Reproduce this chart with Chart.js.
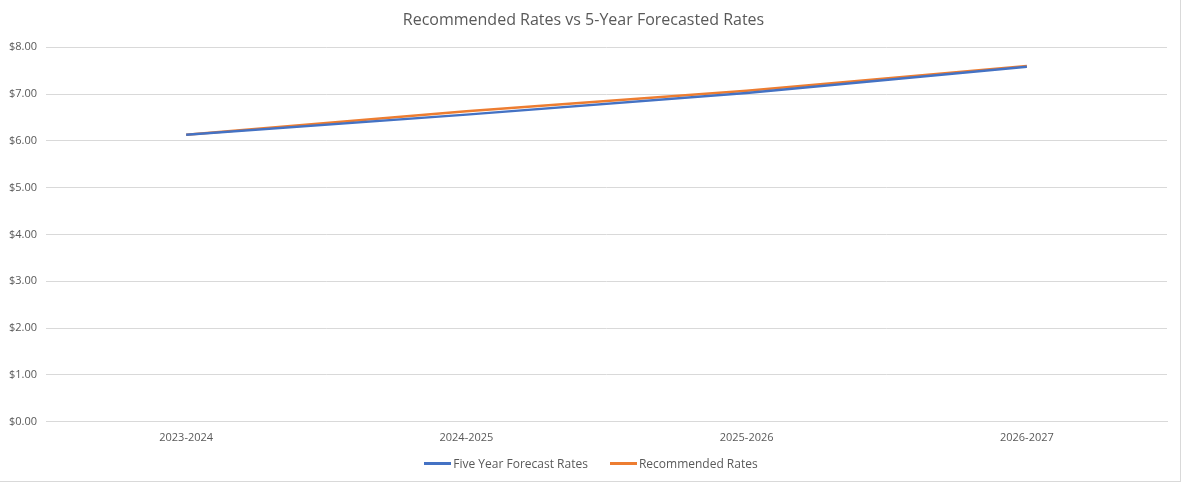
<!DOCTYPE html>
<html>
<head>
<meta charset="utf-8">
<script src="https://cdn.jsdelivr.net/npm/chart.js@4"></script>
<style>
    html, body { margin: 0; padding: 0; background: #fff; }
    #wrap { position: relative; width: 1182px; height: 487px; }
    #frame {
        position: absolute; left: 0; top: 0; width: 1181px; height: 482px;
        border-right: 1px solid #d9d9d9; border-bottom: 1px solid #d9d9d9;
        box-sizing: border-box; pointer-events: none;
    }
    #legend {
        position: absolute; left: 0; right: 0; top: 454px; height: 18px;
        display: flex; justify-content: center; align-items: center;
        font-family: 'Open Sans', 'Liberation Sans', sans-serif; font-size: 12px; color: #595959;
    }
    .item { display: flex; align-items: center; margin: 0 11px; }
    .swatch { width: 27px; height: 3px; margin-right: 2px; }
</style>
</head>
<body>
<div id="wrap">
    <canvas id="ratesChart"></canvas>
    <div id="legend"></div>
    <div id="frame"></div>
</div>
<script>
// chart data
const years = ['2023-2024', '2024-2025', '2025-2026', '2026-2027'];
const forecastRates = [6.13, 6.56, 7.02, 7.58];
const recommendedRates = [6.13, 6.63, 7.07, 7.60];

const textColor = '#595959';
const gridColor = '#d9d9d9';
const fontFamily = "'Open Sans', 'Liberation Sans', sans-serif";

const ctx = document.getElementById('ratesChart').getContext('2d');
const chart = new Chart(ctx, {
    type: 'line',
    data: {
        labels: years,
        datasets: [
            {
                label: 'Five Year Forecast Rates',
                data: forecastRates,
                borderColor: '#4472C4',
                backgroundColor: '#4472C4',
                borderWidth: 2.5,
                pointRadius: 0,
                tension: 0
            },
            {
                label: 'Recommended Rates',
                data: recommendedRates,
                borderColor: '#ED7D31',
                backgroundColor: '#ED7D31',
                borderWidth: 2.5,
                pointRadius: 0,
                tension: 0
            }
        ]
    },
    options: {
        responsive: true,
        maintainAspectRatio: false,
        animation: false,
        layout: {
            padding: { left: 0, right: 15, top: 6, bottom: 34 }
        },
        scales: {
            x: {
                offset: true,
                grid: { display: false, drawTicks: false },
                border: { display: true, color: gridColor },
                ticks: {
                    color: textColor,
                    font: { family: fontFamily, size: 11 },
                    padding: 9
                }
            },
            y: {
                min: 0,
                max: 8,
                grid: { color: gridColor, drawTicks: false },
                border: { display: false },
                ticks: {
                    stepSize: 1,
                    color: textColor,
                    font: { family: fontFamily, size: 11 },
                    padding: 9,
                    callback: function(value) {
                        return '$' + Number(value).toFixed(2);
                    }
                }
            }
        },
        plugins: {
            title: {
                display: true,
                text: 'Recommended Rates vs 5-Year Forecasted Rates',
                color: textColor,
                font: { family: fontFamily, size: 16, weight: 'normal' },
                padding: { top: 5, bottom: 17 }
            },
            legend: { display: false },
            tooltip: { enabled: false }
        }
    }
});

// legend built from the datasets
const legend = document.getElementById('legend');
chart.data.datasets.forEach(ds => {
    const item = document.createElement('div');
    item.className = 'item';
    const swatch = document.createElement('span');
    swatch.className = 'swatch';
    swatch.style.background = ds.borderColor;
    const label = document.createElement('span');
    label.textContent = ds.label;
    item.appendChild(swatch);
    item.appendChild(label);
    legend.appendChild(item);
});
</script>
</body>
</html>
